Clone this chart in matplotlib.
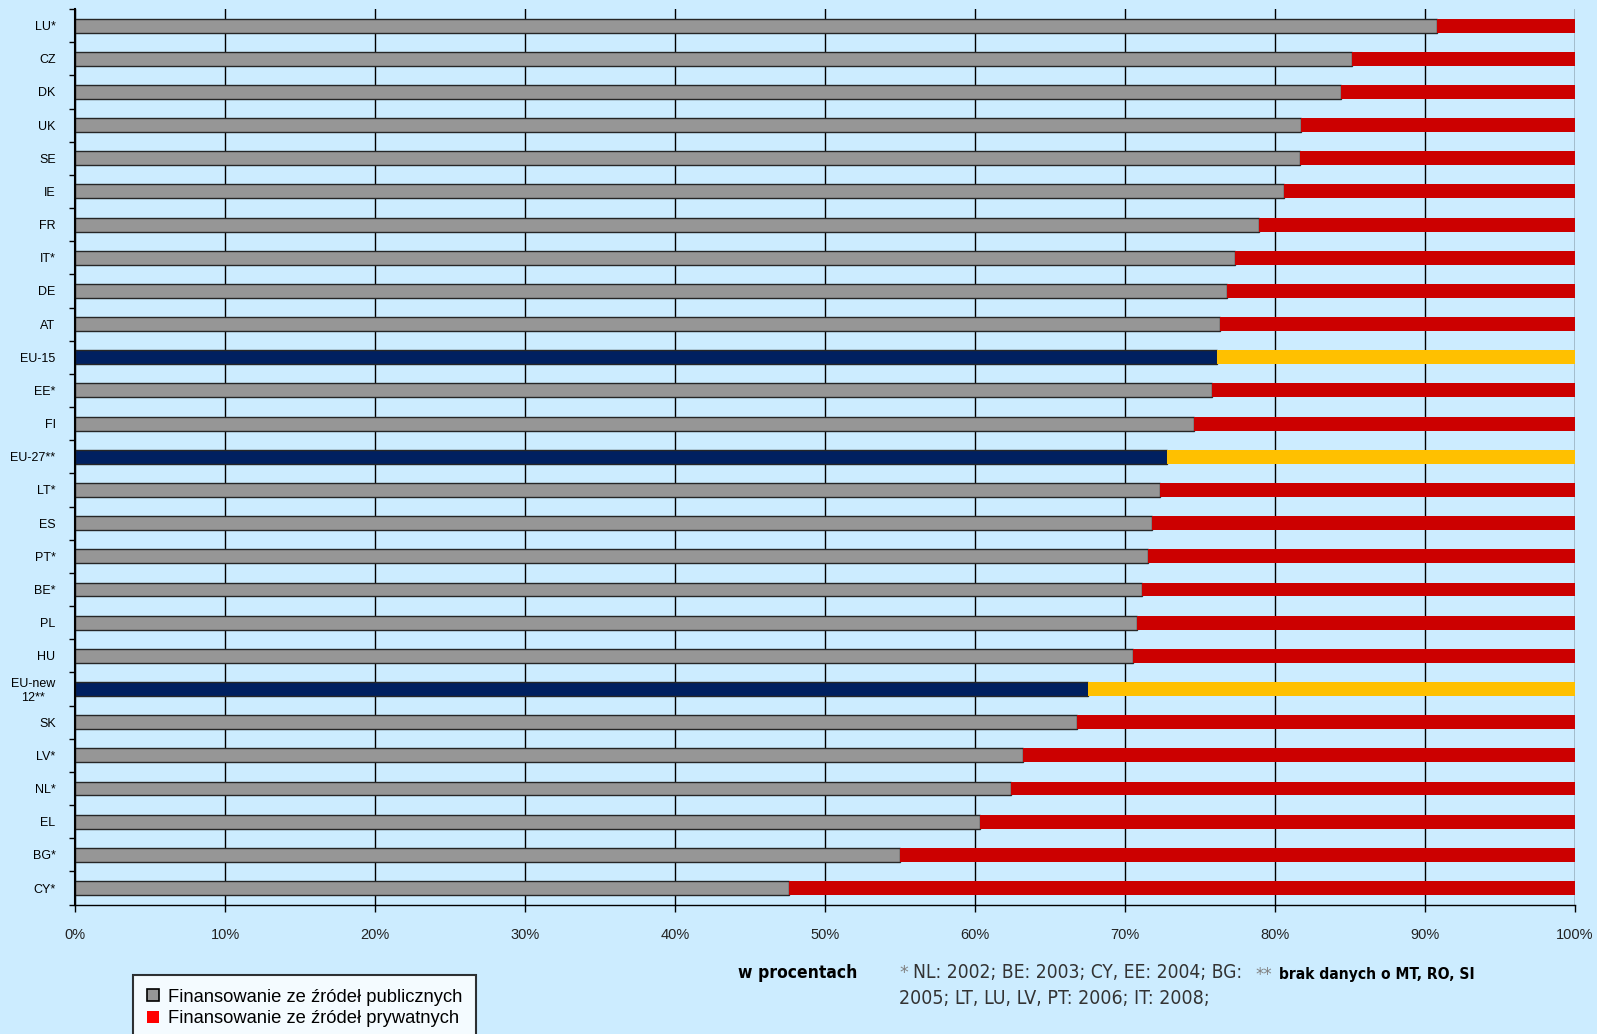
import numpy as np
import matplotlib
matplotlib.use("Agg")
import matplotlib.pyplot as plt
from matplotlib.patches import Patch

# country codes, top to bottom
countries = ["LU*", "CZ", "DK", "UK", "SE", "IE", "FR", "IT*", "DE", "AT",
             "EU-15", "EE*", "FI", "EU-27**", "LT*", "ES", "PT*", "BE*", "PL",
             "HU", "EU-new\n12**", "SK", "LV*", "NL*", "EL", "BG*", "CY*"]
# share of public funding, %
public = [90.8, 85.1, 84.4, 81.7, 81.65, 80.6, 78.9, 77.3, 76.8, 76.3,
          76.1, 75.8, 74.6, 72.8, 72.3, 71.8, 71.5, 71.1, 70.8,
          70.5, 67.5, 66.8, 63.2, 62.4, 60.3, 55.0, 47.6]
aggregates = ["EU-15", "EU-27**", "EU-new\n12**"]
xticks = [0, 10, 20, 30, 40, 50, 60, 70, 80, 90, 100]

bg = "#CCECFF"
plt.rcParams["font.family"] = ["Liberation Sans", "DejaVu Sans"]

fig = plt.figure(figsize=(15.97, 10.34), dpi=100, facecolor=bg)
ax = fig.add_axes([75 / 1597, 1 - 904.6 / 1034, 1500 / 1597, (904.6 - 9) / 1034])
ax.set_facecolor(bg)

pub = np.array(public)
priv = 100 - pub
y = np.arange(len(countries))
is_agg = np.array([c in aggregates for c in countries])

pub_col = np.where(is_agg, "#002060", "#969696")
priv_col = np.where(is_agg, "#FFC000", "#CC0000")
h = 0.42
ax.barh(y, pub, height=h, color=pub_col, edgecolor="#262626", linewidth=1.0, zorder=3)
ax.barh(y, priv, left=pub, height=h, color=priv_col, edgecolor="none", zorder=3)

ax.set_ylim(len(countries) - 0.5, -0.5)
ax.set_xlim(0, 100)

# vertical grid at every 10%
for v in xticks:
    ax.axvline(v, color="black", linewidth=1.0, zorder=1)

ax.set_xticks(xticks)
ax.set_xticklabels([f"{v}%" for v in xticks], fontsize=10.5, color="#222222")
ax.tick_params(axis="x", direction="out", length=5, width=1, pad=12)

ax.set_yticks(y)
ax.set_yticklabels(countries, fontsize=9)
for lbl in ax.get_yticklabels():
    lbl.set_multialignment("center")
ax.set_yticks(np.arange(-0.5, len(countries), 1), minor=True)
ax.tick_params(axis="y", which="major", length=0, pad=14)
ax.tick_params(axis="y", which="minor", direction="out", length=4, width=1)

for s in ["top", "right"]:
    ax.spines[s].set_visible(False)
ax.spines["left"].set_linewidth(1.5)
ax.spines["left"].set_zorder(4)
ax.spines["bottom"].set_linewidth(1.0)

# legend
handles = [Patch(facecolor="#969696", edgecolor="black", linewidth=1.2,
                 label="Finansowanie ze źródeł publicznych"),
           Patch(facecolor="#FF0000", edgecolor="none",
                 label="Finansowanie ze źródeł prywatnych")]
leg = fig.legend(handles=handles, loc="upper left",
                 bbox_to_anchor=(133 / 1597, 1 - 975 / 1034),
                 frameon=True, fancybox=False, fontsize=13.2,
                 handlelength=0.65, handleheight=0.65, handletextpad=0.5,
                 borderpad=0.75, labelspacing=0.25, borderaxespad=0)
leg.get_frame().set_edgecolor("black")
leg.get_frame().set_linewidth(1.5)
leg.get_frame().set_facecolor("white")

narrow = ["Liberation Sans Narrow", "DejaVu Sans"]
fig.text(738 / 1597, 1 - 973 / 1034, "w procentach", fontsize=12.5, fontweight="bold",
         family=narrow, fontstretch="condensed", va="center", ha="left")

fig.text(899 / 1597, 1 - 973 / 1034, "*", fontsize=12.5, color="#808080",
         family=narrow, va="center", ha="left")
fig.text(913 / 1597, 1 - 973 / 1034, "NL: 2002; BE: 2003; CY, EE: 2004; BG:",
         fontsize=13.8, color="#333333", family=narrow, fontstretch="condensed",
         va="center", ha="left")
fig.text(899 / 1597, 1 - 998 / 1034, "2005; LT, LU, LV, PT: 2006; IT: 2008;",
         fontsize=14, color="#333333", family=narrow, fontstretch="condensed",
         va="center", ha="left")

fig.text(1255 / 1597, 1 - 975 / 1034, "**", fontsize=12, color="#808080",
         family=narrow, va="center", ha="left")
fig.text(1279 / 1597, 1 - 975 / 1034, "brak danych o MT, RO, SI", fontsize=11.2,
         fontweight="bold", family=narrow, fontstretch="condensed",
         va="center", ha="left")

fig.savefig("out.png", dpi=100, facecolor=bg)
